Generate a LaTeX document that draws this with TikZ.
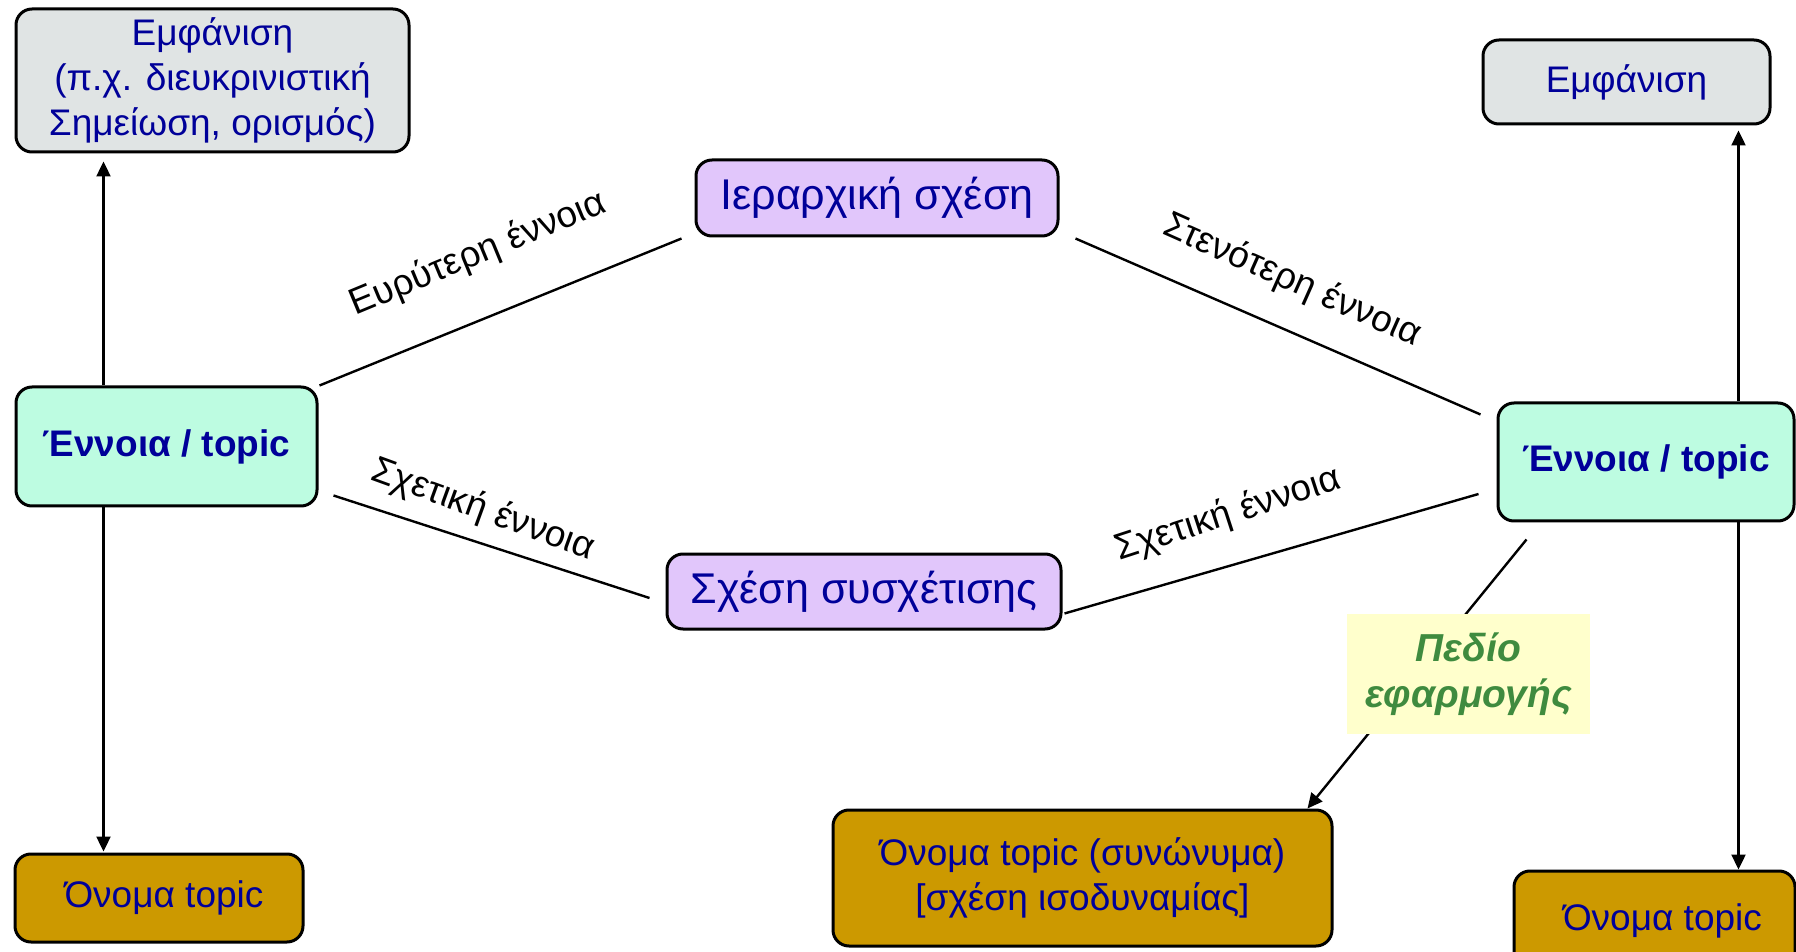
\documentclass[tikz,border=0pt]{standalone}
\usepackage{fontspec}
\setmainfont{Liberation Sans}
\usetikzlibrary{arrows.meta,calc}
\definecolor{txtblue}{HTML}{000099}
\definecolor{boxgray}{HTML}{E0E4E4}
\definecolor{boxmint}{HTML}{BDFCE1}
\definecolor{boxlav}{HTML}{E1C6FB}
\definecolor{boxgold}{HTML}{CC9900}
\definecolor{boxyel}{HTML}{FFFFCC}
\definecolor{txtgreen}{HTML}{3F8B3F}
\tikzset{
  basebox/.style={draw=black, line width=1.5pt, rounded corners=8pt, inner sep=0pt, align=center,
    text=txtblue, font=\fontsize{18.5}{22.5}\selectfont},
  graybox/.style={basebox, fill=boxgray},
  mintbox/.style={basebox, fill=boxmint, font=\fontsize{18.5}{22.5}\selectfont\bfseries},
  lavbox/.style={basebox, fill=boxlav, font=\fontsize{21.5}{25}\selectfont},
  goldbox/.style={basebox, fill=boxgold},
  scopebox/.style={fill=boxyel, inner sep=0pt, align=center, text=txtgreen,
    font=\fontsize{19.5}{23}\selectfont\bfseries\itshape},
  conn/.style={line width=1.2pt, draw=black},
  arr/.style={conn, -{Triangle[length=7.5pt,width=7pt]}},
  lbl/.style={font=\fontsize{18.5}{22}\selectfont, text=black, inner sep=0pt}
}
\begin{document}
\begin{tikzpicture}[x=0.5pt,y=-0.5pt]
\useasboundingbox (0,0) rectangle (1796,952);
\clip (0,0) rectangle (1796,952);

% nodes
\node[graybox, minimum width=196.5pt, minimum height=71.5pt] (app1) at (212.5,80.5)
  {Εμφάνιση\\(π.χ. διευκρινιστική\\Σημείωση, ορισμός)};
\node[mintbox, minimum width=150.5pt, minimum height=59.5pt] (topicL) at (166.5,446.5) {Έννοια / topic};
\node[goldbox, minimum width=144pt, minimum height=44pt] (nameL) at (159,898) {\hspace*{5pt}Όνομα topic};
\node[lavbox, minimum width=181pt, minimum height=38pt] (hier) at (877,198) {Ιεραρχική σχέση};
\node[lavbox, minimum width=197pt, minimum height=37.5pt] (assoc) at (864,591.5) {Σχέση συσχέτισης};
\node[mintbox, minimum width=148pt, minimum height=59pt] (topicR) at (1646,462) {Έννοια / topic};
\node[graybox, minimum width=143.5pt, minimum height=42pt] (appR) at (1626.5,82) {Εμφάνιση};
\node[goldbox, minimum width=140.5pt, minimum height=50pt] (nameR) at (1654.5,921) {\hspace*{8pt}Όνομα topic};
\node[goldbox, minimum width=249.5pt, minimum height=68pt] (syn) at (1082.5,878)
  {Όνομα topic (συνώνυμα)\\{}[σχέση ισοδυναμίας]};

% vertical arrows
\draw[arr] ($(topicL.north west)+(89,0)$) -- ($(app1.south west)+(89,8)$);
\draw[arr] ($(topicL.south west)+(89,0)$) -- ($(nameL.north west)+(90,-1)$);
\draw[arr] ($(topicR.north west)+(242,0)$) -- ($(appR.south west)+(257,5)$);
\draw[arr] ($(topicR.south west)+(242,0)$) -- ($(nameR.north west)+(226,0)$);

% relation lines
\draw[conn] ($(topicL.north east)+(1,0)$) -- ($(hier.south west)+(-13,1)$);
\draw[conn] ($(hier.south east)+(16,1)$) -- ($(topicR.north west)+(-16,13)$);
\draw[conn] ($(topicL.south east)+(15,-12)$) -- ($(assoc.west)+(-16,6.5)$);
\draw[conn] ($(assoc.south east)+(2,-17)$) -- ($(topicR.west)+(-18,32)$);

% scope arrow
\draw[arr] ($(topicR.south west)+(30,17)$) -- ($(syn.north east)+(-26,0)$);
\node[scopebox, minimum width=121.5pt, minimum height=60pt] (scope) at (1468.5,674) {Πεδίο\\εφαρμογής};

% labels
\node[lbl, rotate=22.5] (l1) at (478,254) {Ευρύτερη έννοια};
\node[lbl, rotate=-24] (l2) at (1292,281) {Στενότερη έννοια};
\node[lbl, rotate=-20] (l3) at (483,510) {Σχετική έννοια};
\node[lbl, rotate=18] (l4) at (1228,515) {Σχετική έννοια};
\end{tikzpicture}
\end{document}
